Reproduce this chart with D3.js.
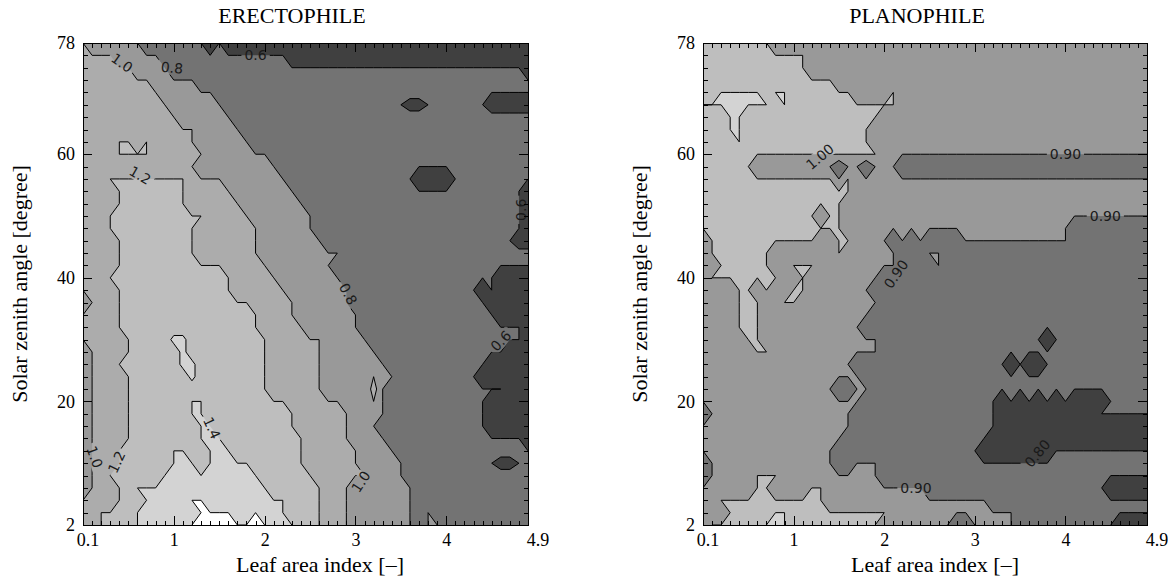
<!DOCTYPE html>
<html>
<head>
<meta charset="utf-8">
<script src="https://cdn.jsdelivr.net/npm/d3@7"></script>
<style>
  html, body { margin: 0; padding: 0; background: #ffffff; }
  svg { display: block; }
</style>
</head>
<body>
<svg id="chart" width="1168" height="580"></svg>
<script>
// ---- axes ---------------------------------------------------------------
const laiTicks = [0, 1, 2, 3, 4, 4.9];
const laiTickLabels = ["0.1", "1", "2", "3", "4", "4.9"];
const szaTicks = [0, 20, 40, 60, 78];
const szaTickLabels = ["2", "20", "40", "60", "78"];
const laiStep = 0.1;   // grid spacing along leaf area index
const szaStep = 2;     // grid spacing along solar zenith angle (degrees)

// ---- gridded ratio fields ----------------------------------------------
// One string per zenith-angle row, from 78 deg (top) down to the bottom row.
// Each token is <value code><run length>; the code is a base-36 digit whose
// value divided by 10 gives the ratio (a = 1.0, c = 1.2, e = 1.4, g = 1.6).
const erectophileRows = [
  "a1 86 67 41 61 434",
  "a4 85 614 427",
  "a6 84 639 41",
  "a8 85 637",
  "a9 86 621 72 612",
  "a10 86 620 52 67 45",
  "a11 86 619 72 67 75",
  "a13 85 632",
  "a4 c2 a1 c1 a5 86 631",
  "a4 c4 a6 87 629",
  "a13 89 628",
  "a3 c9 a4 87 614 44 69",
  "a4 c8 a5 87 625 41",
  "a4 c8 a6 87 624 41",
  "a3 c11 a5 87 623 41",
  "a3 c10 a7 86 623 41",
  "a4 c9 a7 87 621 42",
  "a4 c9 a7 89 619 72",
  "a4 c12 a5 87 622",
  "a3 c14 a5 87 617 44",
  "a4 c13 a6 87 614 41 61 44",
  "81 a3 c15 a5 86 615 45",
  "a4 c16 a4 87 615 44",
  "a4 c16 a5 86 618 41",
  "a5 c5 f2 c9 a6 85 617 41",
  "81 a4 c6 f1 c9 a6 86 614 43",
  "81 a3 c7 f2 c8 a6 87 611 45",
  "81 a4 c7 f1 c8 a6 85 a1 82 69 46",
  "81 a4 c16 a6 85 b1 81 613 43",
  "81 a4 c7 e2 c9 a6 83 a1 81 611 45",
  "81 a4 c7 e2 c10 a6 84 611 45",
  "81 a4 c8 e2 c9 a6 83 612 45",
  "81 a4 c4 e1 c3 e3 c9 a5 84 615 41",
  "81 a3 c6 e2 c2 e3 c8 a6 84 611 72 62",
  "81 a3 c6 e3 c1 e5 c6 a6 85 610 52 62",
  "81 a2 c6 e11 c6 a6 84 610 72 62",
  "81 a3 c2 e15 c6 a3 87 613",
  "a4 c3 e5 g2 e9 c4 a3 87 613",
  "a2 c4 e7 g4 e2 g1 e3 c4 a3 87 61 81 611",
  "a2 c4 e6 g9 e3 c3 a3 87 61 82 610"
];

const planophileRows = [
  "a8 942",
  "a12 938",
  "a12 938",
  "a15 935",
  "a2 b5 a1 b2 a7 94 a1 928",
  "b8 a1 b1 a12 928",
  "a3 b2 a15 930",
  "a3 b2 a14 931",
  "a4 b1 a14 931",
  "a20 930",
  "a6 99 81 92 81 93 828",
  "a15 91 a1 933",
  "a17 933",
  "a16 934",
  "a13 91 a2 934",
  "a16 925 89",
  "91 a12 92 a2 94 81 91 81 91 84 912 89",
  "91 a7 97 a1 96 83 92 823",
  "92 a6 92 a3 99 84 91 823",
  "91 a8 92 a1 98 830",
  "94 a2 91 a1 92 a2 97 831",
  "94 a3 92 a2 99 830",
  "94 a3 912 831",
  "94 a3 911 832",
  "95 a2 913 818 71 811",
  "96 a2 912 830",
  "917 817 71 81 72 812",
  "918 832",
  "915 82 92 831",
  "918 815 71 81 71 81 71 81 71 81 74 85",
  "81 916 816 711 86",
  "917 816 717",
  "916 816 718",
  "915 816 78 811",
  "81 914 82 93 830",
  "81 95 a3 911 830",
  "96 a2 94 a2 911 820 75",
  "92 a12 918 818",
  "93 a5 b2 a11 914 815",
  "91 a6 b3 a10 98 82 95 811 74"
];

// contour levels
const erectophileLevels = [0.6, 0.8, 1.0, 1.2, 1.4, 1.6];
const planophileLevels = [0.8, 0.9, 1.0, 1.1];

// in-line contour labels: text, position (LAI, SZA) and text angle
const erectophileLabels = [
  { text: "1.0", lai: 0.43, sza: 74.8, angle: 35 },
  { text: "0.8", lai: 0.98, sza: 74.0, angle: 5 },
  { text: "0.6", lai: 1.90, sza: 76.1, angle: 0 },
  { text: "1.2", lai: 0.63, sza: 56.6, angle: 30 },
  { text: "0.8", lai: 2.92, sza: 37.4, angle: 62 },
  { text: "0.6", lai: 4.82, sza: 51.0, angle: -90 },
  { text: "0.6", lai: 4.60, sza: 29.8, angle: -45 },
  { text: "1.0", lai: 3.06, sza: 7.0, angle: -57 },
  { text: "1.4", lai: 1.42, sza: 15.7, angle: 65 },
  { text: "1.2", lai: 0.37, sza: 10.2, angle: -65 },
  { text: "1.0", lai: 0.13, sza: 11.0, angle: 70 }
];
const planophileLabels = [
  { text: "1.00", lai: 1.29, sza: 59.6, angle: -40 },
  { text: "0.90", lai: 4.00, sza: 60.0, angle: 0 },
  { text: "0.90", lai: 4.44, sza: 50.0, angle: 0 },
  { text: "0.90", lai: 2.13, sza: 40.6, angle: -55 },
  { text: "0.80", lai: 3.69, sza: 11.6, angle: -50 },
  { text: "0.90", lai: 2.35, sza: 6.0, angle: 0 }
];

// ---- styling ------------------------------------------------------------
const erectophileFills = ["#404040", "#737373", "#999999", "#acacac", "#bebebe", "#d3d3d3", "#ffffff"];
const planophileFills = ["#404040", "#737373", "#999999", "#bebebe", "#d3d3d3"];
const SERIF = "'Liberation Serif', 'Times New Roman', serif";
const SANS = "'DejaVu Sans', Verdana, sans-serif";
const W = 1168, H = 580;
const PLOT_TOP = 43, PLOT_BOTTOM = 525;

const svg = d3.select("#chart");
const defs = svg.append("defs");

function decodeRows(rows) {
  return rows.map(row => row.trim().split(/\s+/).flatMap(tok =>
    Array(+tok.slice(1)).fill(parseInt(tok[0], 36) / 10)));
}

function drawPanel(cfg) {
  const g = svg.append("g");
  const x = d3.scaleLinear().domain([0, 4.9]).range([cfg.left, cfg.right]);
  const y = d3.scaleLinear().domain([0, 78]).range([PLOT_BOTTOM, PLOT_TOP]);

  const grid = decodeRows(cfg.rows);
  const ny = grid.length, nx = grid[0].length;
  const values = grid.flat();

  const contours = d3.contours().size([nx, ny]).thresholds(cfg.levels)(values);

  // grid coordinates (cell centres at k + 0.5) -> screen
  const toScreen = d3.geoTransform({
    point(gx, gy) {
      this.stream.point(x((gx - 0.5) * laiStep), y(78 - (gy - 0.5) * szaStep));
    }
  });
  const path = d3.geoPath(toScreen);

  const clipId = cfg.id + "-clip";
  defs.append("clipPath").attr("id", clipId)
    .append("rect")
    .attr("x", x(0)).attr("y", y(78))
    .attr("width", x(4.9) - x(0)).attr("height", y(0) - y(78));

  const plot = g.append("g").attr("clip-path", `url(#${clipId})`);

  plot.append("rect")
    .attr("x", x(0)).attr("y", y(78))
    .attr("width", x(4.9) - x(0)).attr("height", y(0) - y(78))
    .attr("fill", cfg.fills[0]);

  plot.append("g").selectAll("path")
    .data(contours)
    .join("path")
    .attr("d", path)
    .attr("fill", (d, k) => cfg.fills[k + 1])
    .attr("fill-rule", "evenodd")
    .attr("stroke", "none");

  // contour lines, broken where the labels sit
  const maskId = cfg.id + "-mask";
  const mask = defs.append("mask").attr("id", maskId)
    .attr("maskUnits", "userSpaceOnUse")
    .attr("x", 0).attr("y", 0).attr("width", W).attr("height", H);
  mask.append("rect").attr("width", W).attr("height", H).attr("fill", "#fff");

  plot.append("g").attr("mask", `url(#${maskId})`)
    .selectAll("path")
    .data(contours)
    .join("path")
    .attr("d", path)
    .attr("fill", "none")
    .attr("stroke", "#000")
    .attr("stroke-width", 1)
    .attr("stroke-linejoin", "miter");

  const labelLayer = g.append("g")
    .attr("font-family", SANS)
    .attr("font-size", 14)
    .attr("fill", "#1a1a1a");
  cfg.labels.forEach(lb => {
    const tx = x(lb.lai), ty = y(lb.sza);
    const tr = `translate(${tx},${ty}) rotate(${lb.angle})`;
    const t = labelLayer.append("text")
      .attr("transform", tr)
      .attr("text-anchor", "middle")
      .attr("dy", "0.36em")
      .text(lb.text);
    const bb = t.node().getBBox();
    mask.append("rect")
      .attr("transform", tr)
      .attr("x", bb.x - 3).attr("y", bb.y + 1)
      .attr("width", bb.width + 6).attr("height", bb.height - 2)
      .attr("fill", "#000");
  });

  // frame
  g.append("rect")
    .attr("x", x(0)).attr("y", y(78))
    .attr("width", x(4.9) - x(0)).attr("height", y(0) - y(78))
    .attr("fill", "none").attr("stroke", "#000").attr("stroke-width", 1)
    .attr("shape-rendering", "crispEdges");

  // ticks on all four sides, pointing inwards
  const laiMinor = d3.range(0, 50).map(k => k * laiStep);
  const szaMinor = d3.range(0, 40).map(k => k * szaStep);
  const styleAxis = sel => {
    sel.select(".domain").remove();
    sel.selectAll("line").attr("stroke", "#000").attr("shape-rendering", "crispEdges");
    sel.attr("font-family", SERIF).attr("font-size", 18);
    sel.selectAll("text").attr("fill", "#000");
  };
  const place = (axis, tr) => g.append("g").attr("transform", tr).call(axis).call(styleAxis);

  place(d3.axisBottom(x).tickValues(laiMinor).tickSize(-4.5).tickFormat(""), `translate(0,${y(0)})`);
  place(d3.axisTop(x).tickValues(laiMinor).tickSize(-4.5).tickFormat(""), `translate(0,${y(78)})`);
  place(d3.axisLeft(y).tickValues(szaMinor).tickSize(-4.5).tickFormat(""), `translate(${x(0)},0)`);
  place(d3.axisRight(y).tickValues(szaMinor).tickSize(-4.5).tickFormat(""), `translate(${x(4.9)},0)`);

  const bottomAxis = place(d3.axisBottom(x).tickValues(laiTicks).tickSize(-9).tickPadding(8)
          .tickFormat((d, i) => laiTickLabels[i]), `translate(0,${y(0)})`);
  // the end labels sit slightly to the right of the frame corners
  bottomAxis.selectAll("text")
    .attr("dx", (d, i) => i === 0 ? 4.5 : (i === laiTicks.length - 1 ? 9.5 : 0));
  place(d3.axisTop(x).tickValues(laiTicks).tickSize(-9).tickFormat(""), `translate(0,${y(78)})`);
  place(d3.axisLeft(y).tickValues(szaTicks).tickSize(-9).tickPadding(8)
          .tickFormat((d, i) => szaTickLabels[i]), `translate(${x(0)},0)`);
  place(d3.axisRight(y).tickValues(szaTicks).tickSize(-9).tickFormat(""), `translate(${x(4.9)},0)`);

  // titles
  g.append("text")
    .attr("x", cfg.titleX).attr("y", 23)
    .attr("text-anchor", "middle")
    .attr("font-family", SERIF).attr("font-size", 22)
    .text(cfg.title);
  g.append("text")
    .attr("x", cfg.xTitleX).attr("y", 572)
    .attr("text-anchor", "middle")
    .attr("font-family", SERIF).attr("font-size", 22)
    .text("Leaf area index [\u2013]");
  g.append("text")
    .attr("transform", `translate(${cfg.left - 56},${(PLOT_TOP + PLOT_BOTTOM) / 2}) rotate(-90)`)
    .attr("text-anchor", "middle")
    .attr("font-family", SERIF).attr("font-size", 22)
    .text("Solar zenith angle [degree]");
}

drawPanel({
  id: "erecto", left: 83, right: 528, title: "ERECTOPHILE", titleX: 292, xTitleX: 320,
  rows: erectophileRows, levels: erectophileLevels, fills: erectophileFills,
  labels: erectophileLabels
});
drawPanel({
  id: "plano", left: 703, right: 1147, title: "PLANOPHILE", titleX: 917, xTitleX: 935,
  rows: planophileRows, levels: planophileLevels, fills: planophileFills,
  labels: planophileLabels
});
</script>
</body>
</html>
